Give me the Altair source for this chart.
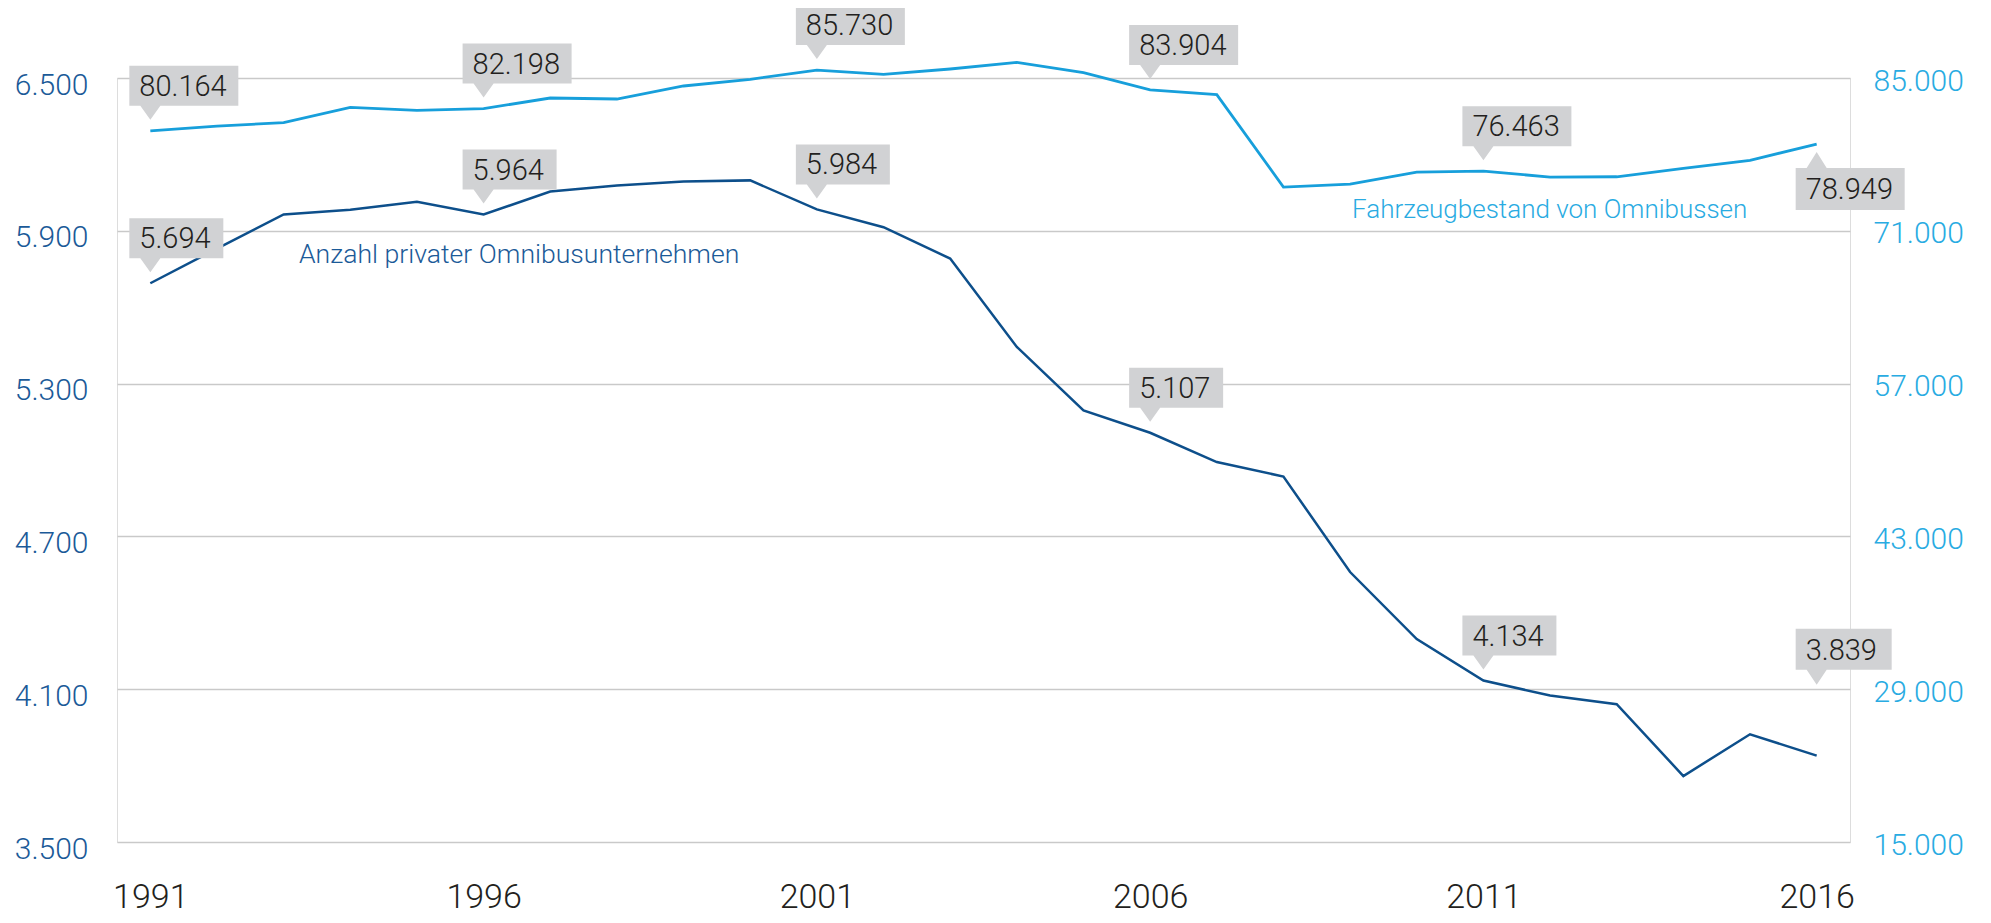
import altair as alt
import pandas as pd

# ---------------- data ----------------
years = list(range(1991, 2017))
unternehmen = [5694, 5830, 5964, 5983, 6014, 5964, 6054, 6078, 6094, 6098,
               5984, 5914, 5791, 5444, 5195, 5107, 4992, 4935, 4560, 4297,
               4134, 4075, 4041, 3759, 3923, 3839]
fahrzeuge = [80164, 80599, 80902, 82313, 82037, 82198, 83166, 83075, 84267, 84878,
             85730, 85339, 85825, 86439, 85486, 83904, 83472, 75006, 75281, 76382,
             76463, 75923, 75950, 76718, 77452, 78949]
callout_years = [1991, 1996, 2001, 2006, 2011, 2016]
dark_placement = ["above", "above", "above", "above", "above", "high"]
light_placement = ["above", "above", "above", "above", "above", "below"]
left_ticks = [3500, 4100, 4700, 5300, 5900, 6500]
right_ticks = [15000, 29000, 43000, 57000, 71000, 85000]
year_ticks = [1991, 1996, 2001, 2006, 2011, 2016]
label_dark = "Anzahl privater Omnibusunternehmen"
label_light = "Fahrzeugbestand von Omnibussen"

# ---------------- styles ----------------
FONT = "Roboto"
DARK = "#0d4f8b"
DARK_LBL = "#1b5a98"
LIGHT = "#179fdb"
LIGHT_LBL = "#29abe2"
BOX = "#d1d2d4"
TXT = "#231f20"
GRID = "#c9c9c9"

PATH = {
    ("dark", "above"): "M-21,-65H73V-25H10L0,-11L-10,-25H-21Z",
    ("dark", "high"): "M-21,-127H75V-86H10L0,-71L-10,-86H-21Z",
    ("light", "above"): "M-21,-65H88V-25H10L0,-11L-10,-25H-21Z",
    ("light", "below"): "M-21,66H88V24H10L0,8L-10,24H-21Z",
}
TEXT_DY = {"above": -44, "high": -105, "below": 46}


def de(v):
    return f"{v:,}".replace(",", ".")


dark_df = pd.DataFrame({"year": years, "value": unternehmen})
light_df = pd.DataFrame({"year": years, "value": fahrzeuge})

dark_call = dark_df[dark_df.year.isin(callout_years)].copy()
dark_call["pos"] = dark_placement
dark_call["label"] = dark_call["value"].map(de)
light_call = light_df[light_df.year.isin(callout_years)].copy()
light_call["pos"] = light_placement
light_call["label"] = light_call["value"].map(de)

x_enc = alt.X(
    "year:Q",
    scale=alt.Scale(domain=[1990.5, 2016.5], nice=False, zero=False),
    axis=alt.Axis(values=year_ticks, format="d", labelFontSize=34, labelFont=FONT,
                  labelFontWeight=300, labelColor=TXT, grid=False, ticks=False,
                  domain=False, labelPadding=38, title=None),
)

lbl_expr = "replace(format(datum.value, ',d'), ',', '.')"

y_left = alt.Y(
    "value:Q",
    scale=alt.Scale(domain=[3500, 6500], nice=False, zero=False),
    axis=alt.Axis(values=left_ticks, labelExpr=lbl_expr, orient="left", grid=True,
                  gridColor=GRID, gridWidth=1.5, ticks=False, domain=False,
                  labelFontSize=30, labelFont=FONT, labelFontWeight=300,
                  labelColor=DARK_LBL, labelPadding=29, labelOffset=7, title=None),
)
y_right = alt.Y(
    "value:Q",
    scale=alt.Scale(domain=[15000, 85000], nice=False, zero=False),
    axis=alt.Axis(values=right_ticks, labelExpr=lbl_expr, orient="right", grid=False,
                  ticks=False, domain=False, labelFontSize=30, labelFont=FONT,
                  labelFontWeight=300, labelColor=LIGHT_LBL, labelPadding=23,
                  labelOffset=3, title=None),
)


def group(df, call, y_enc, color, series, lbl, lbl_color, lbl_x, lbl_y, lbl_size, width):
    line = alt.Chart(df).mark_line(color=color, strokeWidth=width, strokeJoin="miter").encode(
        x=x_enc, y=y_enc)
    layers = [line]
    places = list(dict.fromkeys(call["pos"]))
    for p in places:
        base = alt.Chart(call).transform_filter(alt.datum.pos == p)
        layers.append(
            base.mark_point(filled=True, opacity=1, strokeWidth=0, size=4, color=BOX,
                            shape=PATH[(series, p)]).encode(x=x_enc, y=y_enc)
        )
        layers.append(
            base.mark_text(align="left", baseline="middle", dx=-11, dy=TEXT_DY[p],
                           fontSize=29, font=FONT, fontWeight=300, color=TXT).encode(
                x=x_enc, y=y_enc, text="label:N")
        )
    layers.append(
        alt.Chart(pd.DataFrame({"t": [lbl]})).mark_text(
            align="left", baseline="alphabetic", fontSize=lbl_size, font=FONT, fontWeight=300,
            color=lbl_color).encode(x=alt.value(lbl_x), y=alt.value(lbl_y), text="t:N")
    )
    return alt.layer(*layers)


left = group(dark_df, dark_call, y_left, DARK, "dark", label_dark, DARK_LBL, 182, 185, 26.6, 2.5)
right = group(light_df, light_call, y_right, LIGHT, "light", label_light, LIGHT_LBL, 1235, 140, 26, 2.8)

chart = alt.layer(left, right).resolve_scale(y="independent").properties(
    width=1733, height=764,
    autosize=alt.AutoSizeParams(type="none"),
    padding={"left": 109, "top": 70, "right": 133, "bottom": 73},
).configure_view(stroke=None).configure(background="white")

chart.save("out.html", embed_options={"renderer": "svg", "actions": False})
